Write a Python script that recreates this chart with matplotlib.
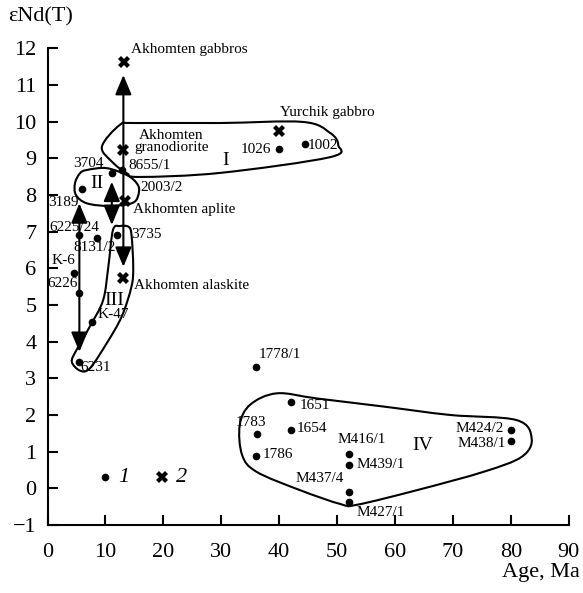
import matplotlib
matplotlib.use("Agg")
import matplotlib.pyplot as plt
from matplotlib.path import Path
from matplotlib.patches import PathPatch
import numpy as np

plt.rcParams['font.family'] = ['Liberation Serif', 'DejaVu Serif']
plt.rcParams['mathtext.fontset'] = 'stix'

# samples (dots): name, age (Ma), eNd(T)
dot_names = ["1026", "1002", "8655/1", "3704", "3189", "6225/24", "8131/2", "3735",
             "K-6", "6226", "K-47", "6231", "1778/1", "1651", "1783", "1654", "1786",
             "M416/1", "M439/1", "M437/4", "M427/1", "M424/2", "M438/1"]
dot_age = [40.0, 44.4, 12.8, 11.1, 5.9, 5.5, 8.5, 11.95,
           4.5, 5.5, 7.6, 5.5, 36.0, 42.0, 36.1, 42.0, 36.0,
           52.0, 52.0, 52.0, 52.0, 80.0, 80.0]
dot_end = [9.26, 9.38, 8.68, 8.59, 8.15, 6.91, 6.82, 6.91,
           5.88, 5.32, 4.54, 3.45, 3.30, 2.35, 1.47, 1.59, 0.89,
           0.94, 0.64, -0.09, -0.37, 1.60, 1.30]

# literature data (crosses)
cross_names = ["Akhomten gabbros", "Akhomten\ngranodiorite", "Akhomten aplite",
               "Akhomten alaskite", "Yurchik gabbro"]
cross_age = [13.2, 13.1, 13.4, 13.1, 39.9]
cross_end = [11.62, 9.23, 7.83, 5.73, 9.75]

# cluster outlines (age, eNd)
cluster_I = [(12.5, 9.91), (9.4, 9.32), (11.1, 8.91), (13.7, 8.59), (16.0, 8.49),
             (29.8, 8.6), (48.8, 9.03), (50.2, 9.36), (48.8, 9.69), (44.1, 9.99),
             (29.8, 9.96), (15.1, 9.96)]
cluster_II = [(6.8, 8.68), (10.2, 8.73), (13.7, 8.54), (15.4, 8.32), (15.8, 8.09),
              (14.8, 7.79), (10.8, 7.70), (6.8, 7.77), (4.9, 8.0), (4.75, 8.32),
              (5.6, 8.59)]
cluster_III = [(12.5, 7.15), (11.3, 7.04), (10.5, 6.04), (9.6, 5.13), (7.3, 4.41),
               (5.0, 3.77), (4.2, 3.45), (5.6, 3.21), (7.3, 3.27), (10.2, 3.95),
               (12.8, 4.68), (14.5, 5.5), (14.8, 6.04), (14.5, 6.91), (14.0, 7.13)]
cluster_IV = [(33.2, 1.73), (35.0, 2.28), (39.6, 2.59), (46.5, 2.45), (58.0, 2.23),
              (69.5, 2.0), (81.0, 1.86), (83.6, 1.36), (81.9, 0.86), (75.3, 0.45),
              (63.8, -0.05), (53.4, -0.45), (50.6, -0.43), (43.6, -0.05), (36.1, 0.45),
              (33.6, 0.91)]

# arrows: (x, y_start, y_end, style)
arrows = [(13.1, 6.04, 11.27, '<|-|>'),
          (11.1, 7.18, 8.36, '<|-|>'),
          (5.5, 3.72, 7.77, '<|-|>')]

# label placement: name -> (x, y, ha)
dot_label_pos = {
    "1026": (38.7, 9.23, 'right'), "1002": (45.0, 9.36, 'left'),
    "8655/1": (14.0, 8.79, 'left'), "3704": (7.05, 8.86, 'center'),
    "3189": (0.1, 7.79, 'left'), "6225/24": (0.4, 7.12, 'left'),
    "8131/2": (4.5, 6.56, 'left'), "3735": (14.4, 6.91, 'left'),
    "K-6": (0.7, 6.2, 'left'), "6226": (0.0, 5.59, 'left'),
    "K-47": (8.6, 4.75, 'left'), "6231": (5.7, 3.30, 'left'),
    "1778/1": (36.4, 3.66, 'left'), "1651": (43.5, 2.27, 'left'),
    "1783": (37.7, 1.79, 'right'), "1654": (43.0, 1.63, 'left'),
    "1786": (37.2, 0.91, 'left'), "M416/1": (54.2, 1.32, 'center'),
    "M439/1": (53.3, 0.64, 'left'), "M437/4": (51.2, 0.27, 'right'),
    "M427/1": (53.3, -0.67, 'left'), "M424/2": (78.8, 1.64, 'right'),
    "M438/1": (79.2, 1.23, 'right'),
}
cross_label_pos = {
    "Akhomten gabbros": (14.4, 11.97, 'left'),
    "Akhomten\ngranodiorite": (21.4, 9.45, 'center'),
    "Akhomten aplite": (14.8, 7.61, 'left'),
    "Akhomten alaskite": (14.9, 5.52, 'left'),
    "Yurchik gabbro": (40.2, 10.24, 'left'),
}
extra_labels = [("2003/2", 16.0, 8.2)]
cluster_labels = [("I", 30.7, 8.93), ("II", 8.6, 8.32), ("III", 11.5, 5.13), ("IV", 64.8, 1.16)]
legend_pts = [(9.9, 0.3, 'o', "1"), (19.8, 0.3, 'X', "2")]


def smooth_closed(pts):
    pts = np.asarray(pts, dtype=float)
    n = len(pts)
    verts = [pts[0]]
    codes = [Path.MOVETO]
    for i in range(n):
        p0, p1, p2, p3 = pts[i - 1], pts[i], pts[(i + 1) % n], pts[(i + 2) % n]
        verts += [p1 + (p2 - p0) / 6, p2 - (p3 - p1) / 6, p2]
        codes += [Path.CURVE4] * 3
    return Path(verts, codes)


fig = plt.figure(figsize=(5.83, 5.93), dpi=100)
ax = fig.add_axes([0.0815, 0.1147, 0.894, 0.804])

for cl in [cluster_I, cluster_II, cluster_III, cluster_IV]:
    ax.add_patch(PathPatch(smooth_closed(cl), facecolor='none', edgecolor='black', lw=1.5))

for x, y0, y1, st in arrows:
    ax.annotate("", xy=(x, y1), xytext=(x, y0),
                arrowprops=dict(arrowstyle=st + ',head_length=0.6,head_width=0.25',
                                mutation_scale=20, color='black', lw=1.5,
                                shrinkA=0, shrinkB=0))

ax.plot(dot_age, dot_end, 'o', color='black', ms=4.5, zorder=5)
ax.plot(cross_age, cross_end, 'X', color='black', ms=8, mew=0, zorder=5)

lab_fs = 11
for name, x, y in zip(dot_names, dot_age, dot_end):
    lx, ly, ha = dot_label_pos[name]
    ax.text(lx, ly, name, ha=ha, va='center', fontsize=lab_fs)
for name in cross_names:
    lx, ly, ha = cross_label_pos[name]
    ax.text(lx, ly, name, ha=ha, va='center', fontsize=lab_fs, linespacing=0.95,
            multialignment='center')
for name, lx, ly in extra_labels:
    ax.text(lx, ly, name, ha='left', va='center', fontsize=lab_fs)
for name, lx, ly in cluster_labels:
    ax.text(lx, ly, name, ha='center', va='center', fontsize=14)

for x, y, m, lab in legend_pts:
    if m == 'o':
        ax.plot(x, y, 'o', color='black', ms=4.5)
    else:
        ax.plot(x, y, 'X', color='black', ms=8, mew=0)
    ax.text(x + 2.3, y, lab, ha='left', va='center', fontsize=16, style='italic')

ax.set_xlim(0, 90)
ax.set_ylim(-1, 12)
ax.set_xticks(np.arange(0, 91, 10))
ax.set_yticks(np.arange(-1, 13, 1))
ax.set_yticklabels(["\u22121"] + [str(v) for v in range(0, 13)])
ax.spines['top'].set_visible(False)
ax.spines['right'].set_visible(False)
ax.spines['left'].set_linewidth(1.5)
ax.spines['bottom'].set_linewidth(1.5)
ax.tick_params(direction='in', length=7, width=1.5, labelsize=16)
ax.tick_params(axis='x', pad=13)
ax.tick_params(axis='y', pad=8)

fig.text(0.014, 0.971, "\u03b5Nd(T)", ha='left', va='center', fontsize=16)
fig.text(0.995, 0.034, "Age, Ma", ha='right', va='center', fontsize=16)

fig.savefig("out.png", dpi=100)
